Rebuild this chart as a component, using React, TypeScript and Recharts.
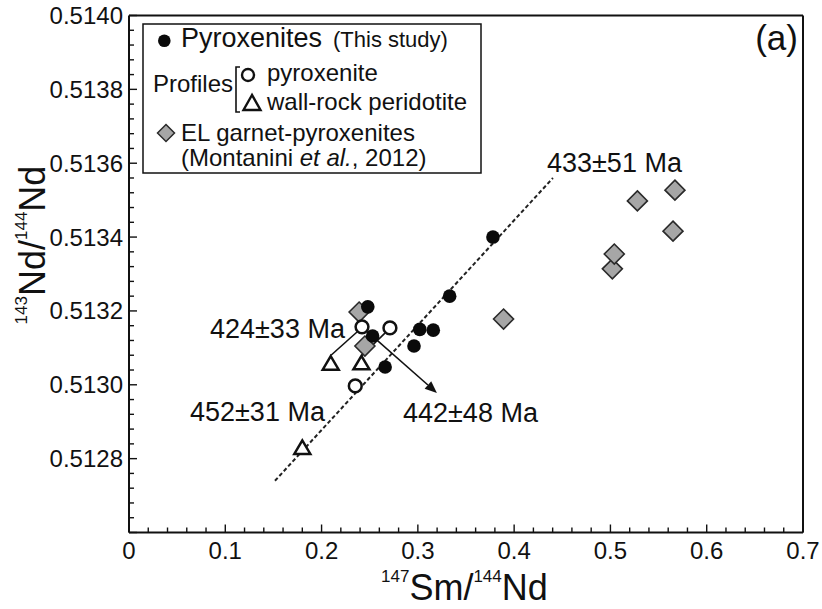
import React from "react";
import { ReferenceLine, Scatter, ScatterChart, XAxis, YAxis } from "recharts";

const FONT = "'Liberation Sans', Arial, Helvetica, sans-serif";
const INK = "#111";

// plot box in page pixels (the chart sits at 0,0)
const PLOT_LEFT = 129;
const PLOT_BOTTOM = 532.5;

// 147Sm/144Nd (x) vs 143Nd/144Nd (y)
const pyroxeniteX = [0.378, 0.333, 0.302, 0.316, 0.296, 0.248, 0.253, 0.266];
const pyroxeniteY = [0.5134, 0.51324, 0.51315, 0.513148, 0.513105, 0.513211, 0.513132, 0.513048];

const profilePxX = [0.242, 0.271, 0.235];
const profilePxY = [0.513157, 0.513154, 0.512997];

const wallRockX = [0.2095, 0.2414, 0.18];
const wallRockY = [0.513057, 0.513058, 0.512829];

const elGarnetX = [0.239, 0.245, 0.389, 0.502, 0.504, 0.528, 0.567, 0.565];
const elGarnetY = [0.513197, 0.513105, 0.513178, 0.513314, 0.513354, 0.513498, 0.513527, 0.513416];

// isochron and tie lines (data coordinates)
const isochron = [{ x: 0.1516, y: 0.51274 }, { x: 0.4403, y: 0.51356 }];
const tieA = [{ x: 0.2368, y: 0.513143 }, { x: 0.2098, y: 0.51308 }];
const tieB = [{ x: 0.2658, y: 0.51314 }, { x: 0.2414, y: 0.513078 }];
const arrowC = [{ x: 0.2475, y: 0.513144 }, { x: 0.3198, y: 0.512978 }];

const xMajorTicks = [0, 0.1, 0.2, 0.3, 0.4, 0.5, 0.6, 0.7];
const xTickLabels = ["0", "0.1", "0.2", "0.3", "0.4", "0.5", "0.6", "0.7"];
const yMajorTicks = [0.5126, 0.5128, 0.513, 0.5132, 0.5134, 0.5136, 0.5138, 0.514];
const yTickLabels = ["", "0.5128", "0.5130", "0.5132", "0.5134", "0.5136", "0.5138", "0.5140"];

const zip = (xs: number[], ys: number[]) => xs.map((x, i) => ({ x, y: ys[i] }));

// 5 minor steps between labelled ticks
const withMinor = (major: number[], digits: number) => {
  const out: number[] = [];
  for (let i = 0; i < major.length - 1; i++) {
    const step = (major[i + 1] - major[i]) / 5;
    for (let k = 0; k < 5; k++) out.push(Number((major[i] + k * step).toFixed(digits)));
  }
  out.push(major[major.length - 1]);
  return out;
};
const xTicks = withMinor(xMajorTicks, 4);
const yTicks = withMinor(yMajorTicks, 6);

const majorIndex = (list: number[], v: number) => list.findIndex((t) => Math.abs(t - v) < 1e-9);

const XTick = (props: any) => {
  const { x, payload } = props;
  const idx = majorIndex(xMajorTicks, payload.value);
  return (
    <g>
      <line x1={x} x2={x} y1={PLOT_BOTTOM} y2={PLOT_BOTTOM - (idx >= 0 ? 8 : 5)} stroke={INK} strokeWidth={1.4} />
      {idx >= 0 && (
        <text x={x} y={558.5} textAnchor="middle" fontSize={24} fontFamily={FONT} fill={INK}>
          {xTickLabels[idx]}
        </text>
      )}
    </g>
  );
};

const YTick = (props: any) => {
  const { y, payload } = props;
  const idx = majorIndex(yMajorTicks, payload.value);
  return (
    <g>
      <line x1={PLOT_LEFT} x2={PLOT_LEFT + (idx >= 0 ? 8 : 5)} y1={y} y2={y} stroke={INK} strokeWidth={1.4} />
      {idx >= 0 && (
        <text x={123} y={y + 8.5} textAnchor="end" fontSize={24} fontFamily={FONT} fill={INK}>
          {yTickLabels[idx]}
        </text>
      )}
    </g>
  );
};

const Dot = (p: any) => <circle cx={p.cx} cy={p.cy} r={6.8} fill="#0a0a0a" />;
const OpenDot = (p: any) => <circle cx={p.cx} cy={p.cy} r={6.4} fill="#fff" stroke={INK} strokeWidth={2.5} />;
const Tri = (p: any) => (
  <polygon
    points={`${p.cx},${p.cy - 7.5} ${p.cx - 8},${p.cy + 6} ${p.cx + 8},${p.cy + 6}`}
    fill="#fff"
    stroke={INK}
    strokeWidth={2.5}
  />
);
const Diamond = (p: any) => (
  <polygon
    points={`${p.cx},${p.cy - 10} ${p.cx + 10},${p.cy} ${p.cx},${p.cy + 10} ${p.cx - 10},${p.cy}`}
    fill="#a6a6a6"
    stroke="#2a2a2a"
    strokeWidth={1.6}
  />
);

const ArrowLine = (p: any) => {
  const { x1, y1, x2, y2 } = p;
  const a = Math.atan2(y2 - y1, x2 - x1);
  const len = 12;
  const half = 5;
  const bx = x2 - len * Math.cos(a);
  const by = y2 - len * Math.sin(a);
  const nx = -Math.sin(a) * half;
  const ny = Math.cos(a) * half;
  return (
    <g>
      <line x1={x1} y1={y1} x2={bx} y2={by} stroke={INK} strokeWidth={1.6} />
      <polygon points={`${x2},${y2} ${bx + nx},${by + ny} ${bx - nx},${by - ny}`} fill={INK} />
    </g>
  );
};

const txt = { fontFamily: FONT, fill: INK } as const;

const Overlay = () => (
  <svg
    width={822}
    height={609}
    style={{ position: "absolute", left: 0, top: 0, pointerEvents: "none" }}
  >
    {/* legend */}
    <rect x={143} y={24} width={338} height={149} fill="#fff" stroke={INK} strokeWidth={1.5} />
    <circle cx={164.3} cy={40.7} r={6.3} fill="#0a0a0a" />
    <text x={181} y={47} fontSize={27} {...txt}>Pyroxenites</text>
    <text x={333} y={47} fontSize={22} {...txt}>(This study)</text>
    <text x={153} y={92} fontSize={24} {...txt}>Profiles</text>
    <path d="M240 67 L236 67 L236 112 L240 112" fill="none" stroke={INK} strokeWidth={1.6} />
    <circle cx={248} cy={75} r={6} fill="#fff" stroke={INK} strokeWidth={2.4} />
    <text x={267} y={81} fontSize={24} {...txt}>pyroxenite</text>
    <polygon points="252,95 243.5,110 260.5,110" fill="#fff" stroke={INK} strokeWidth={2.4} />
    <text x={267} y={110} fontSize={24} {...txt}>wall-rock peridotite</text>
    <polygon points="166,124.5 174.5,133 166,141.5 157.5,133" fill="#a6a6a6" stroke="#2a2a2a" strokeWidth={1.5} />
    <text x={181} y={141} fontSize={24} {...txt}>EL garnet-pyroxenites</text>
    <text x={181} y={166} fontSize={24} {...txt}>
      (Montanini <tspan fontStyle="italic">et al.</tspan>, 2012)
    </text>

    {/* age annotations */}
    <text x={547} y={172} fontSize={27} {...txt}>433±51 Ma</text>
    <text x={210} y={338} fontSize={27} {...txt}>424±33 Ma</text>
    <text x={190} y={421} fontSize={27} {...txt}>452±31 Ma</text>
    <text x={403} y={422} fontSize={27} {...txt}>442±48 Ma</text>
    <text x={798} y={50} fontSize={35} textAnchor="end" {...txt}>(a)</text>

    {/* axis titles */}
    <text x={381} y={600} fontSize={36} {...txt}>
      <tspan fontSize={17} dy={-18}>147</tspan>
      <tspan dy={18}>Sm/</tspan>
      <tspan fontSize={17} dy={-18}>144</tspan>
      <tspan dy={18}>Nd</tspan>
    </text>
    <g transform="translate(45,245) rotate(-90)">
      <text x={0} y={0} fontSize={36} textAnchor="middle" {...txt}>
        <tspan fontSize={17} dy={-18}>143</tspan>
        <tspan dy={18}>Nd/</tspan>
        <tspan fontSize={17} dy={-18}>144</tspan>
        <tspan dy={18}>Nd</tspan>
      </text>
    </g>
  </svg>
);

export default function App() {
  return (
    <div style={{ position: "absolute", left: 0, top: 0, width: 822, height: 609, background: "#fff" }}>
      <ScatterChart width={822} height={609} margin={{ top: 15.5, right: 19, bottom: 0, left: 0 }}>
        <XAxis
          type="number"
          dataKey="x"
          domain={[0, 0.7]}
          ticks={xTicks}
          interval={0}
          allowDataOverflow
          height={76.5}
          tickLine={false}
          axisLine={{ stroke: INK, strokeWidth: 2 }}
          tick={<XTick />}
        />
        <YAxis
          type="number"
          dataKey="y"
          domain={[0.5126, 0.514]}
          ticks={yTicks}
          interval={0}
          allowDataOverflow
          width={129}
          tickLine={false}
          axisLine={{ stroke: INK, strokeWidth: 2 }}
          tick={<YTick />}
        />
        <ReferenceLine x={0.7} stroke={INK} strokeWidth={2} />
        <ReferenceLine y={0.514} stroke={INK} strokeWidth={2} />
        <ReferenceLine segment={isochron} stroke="#222" strokeWidth={2} strokeDasharray="4 2.5" ifOverflow="visible" />
        <ReferenceLine segment={tieA} stroke={INK} strokeWidth={1.6} ifOverflow="visible" />
        <ReferenceLine segment={tieB} stroke={INK} strokeWidth={1.6} ifOverflow="visible" />
        <ReferenceLine segment={arrowC} ifOverflow="visible" shape={(p: any) => <ArrowLine {...p} />} />
        <Scatter name="EL garnet-pyroxenites" data={zip(elGarnetX, elGarnetY)} shape={Diamond} isAnimationActive={false} />
        <Scatter name="Pyroxenites" data={zip(pyroxeniteX, pyroxeniteY)} shape={Dot} isAnimationActive={false} />
        <Scatter name="pyroxenite" data={zip(profilePxX, profilePxY)} shape={OpenDot} isAnimationActive={false} />
        <Scatter name="wall-rock peridotite" data={zip(wallRockX, wallRockY)} shape={Tri} isAnimationActive={false} />
      </ScatterChart>
      <Overlay />
    </div>
  );
}
